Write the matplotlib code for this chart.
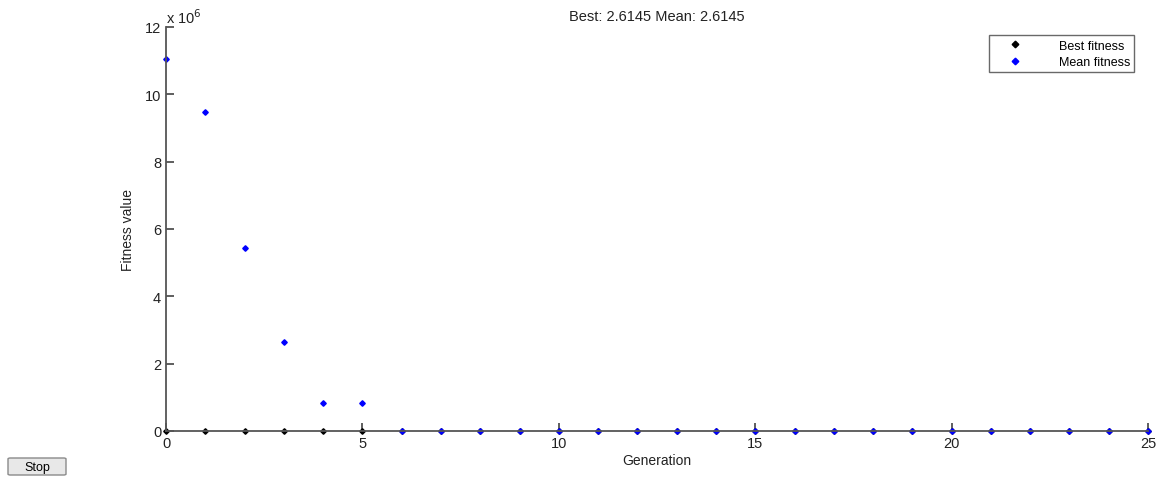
# GA progress plot: best and mean fitness per generation

import numpy as np
import matplotlib.pyplot as plt
from matplotlib.patches import FancyBboxPatch

plt.rcParams['font.family'] = ['Liberation Sans', 'DejaVu Sans']

generations = np.arange(0, 26)
best_fitness = [2.0e3, 2.6, 2.6, 2.6, 2.6, 2.6, 2.6, 2.6, 2.6, 2.6,
                2.6, 2.6, 2.6, 2.6, 2.6, 2.6, 2.6, 2.6, 2.6, 2.6,
                2.6, 2.6, 2.6, 2.6, 2.6, 2.6145]
mean_fitness = [11.05e6, 9.47e6, 5.44e6, 2.64e6, 0.83e6, 0.84e6,
                4.0e3, 3.0e3, 3.0e3, 2.0e3, 2.0e3, 2.0e3, 2.0e3,
                2.0e3, 2.0e3, 2.0e3, 2.0e3, 2.0e3, 2.0e3, 2.0e3,
                2.0e3, 2.0e3, 2.0e3, 2.0e3, 2.0e3, 2.6145]
title_text = "Best: 2.6145 Mean: 2.6145"

fig = plt.figure(figsize=(11.58, 4.81), dpi=100)
ax = fig.add_axes([0.1434, 0.1019, 0.8480, 0.8399])

ax.plot(generations, best_fitness, linestyle='none', marker='D',
        markersize=2.8, color='black', label='Best fitness', clip_on=False)
ax.plot(generations, mean_fitness, linestyle='none', marker='D',
        markersize=2.8, color='blue', label='Mean fitness', clip_on=False)

ax.set_xlim(0, 25)
ax.set_ylim(0, 12e6)
ax.set_xticks(range(0, 26, 5))
ax.set_yticks(np.arange(0, 13e6, 2e6))
ax.ticklabel_format(axis='y', style='sci', scilimits=(6, 6))
ax.yaxis.get_offset_text().set_visible(False)
ax.text(0.0, 1.003, r'x 10$^{6}$', transform=ax.transAxes,
        fontsize=10.5, color='#222222', ha='left', va='bottom')

for side in ('top', 'right'):
    ax.spines[side].set_visible(False)
for side in ('left', 'bottom'):
    ax.spines[side].set_color('#555555')
    ax.spines[side].set_linewidth(1.3)
ax.tick_params(direction='in', length=6, width=1.1, colors='#333333',
               labelsize=10.5, labelcolor='#222222')

ax.set_xlabel('Generation', fontsize=10, color='#222222', labelpad=2)
ax.set_ylabel('Fitness value', fontsize=10, color='#222222', labelpad=7)
ax.set_title(title_text, fontsize=10.5, color='#222222', pad=5)

leg = ax.legend(loc='upper right', bbox_to_anchor=(0.9925, 0.995),
                fontsize=9, frameon=True, fancybox=False,
                handletextpad=1.8, borderpad=0.35, markerscale=1.2,
                handlelength=3.4, labelspacing=0.35)
leg.get_frame().set_edgecolor('#444444')
leg.get_frame().set_linewidth(1.0)

# Stop button drawn in figure coordinates
btn = FancyBboxPatch((8 / 1158, 1 - 476 / 481), 58 / 1158, 17 / 481,
                     boxstyle='round,pad=0,rounding_size=0.002',
                     transform=fig.transFigure, facecolor='#e8e8e8',
                     edgecolor='#8a8a8a', linewidth=1.0)
fig.patches.append(btn)
fig.text(37 / 1158, 1 - 468 / 481, 'Stop', ha='center', va='center',
         fontsize=9, color='black')

fig.savefig('out.png', dpi=100, facecolor='white')
